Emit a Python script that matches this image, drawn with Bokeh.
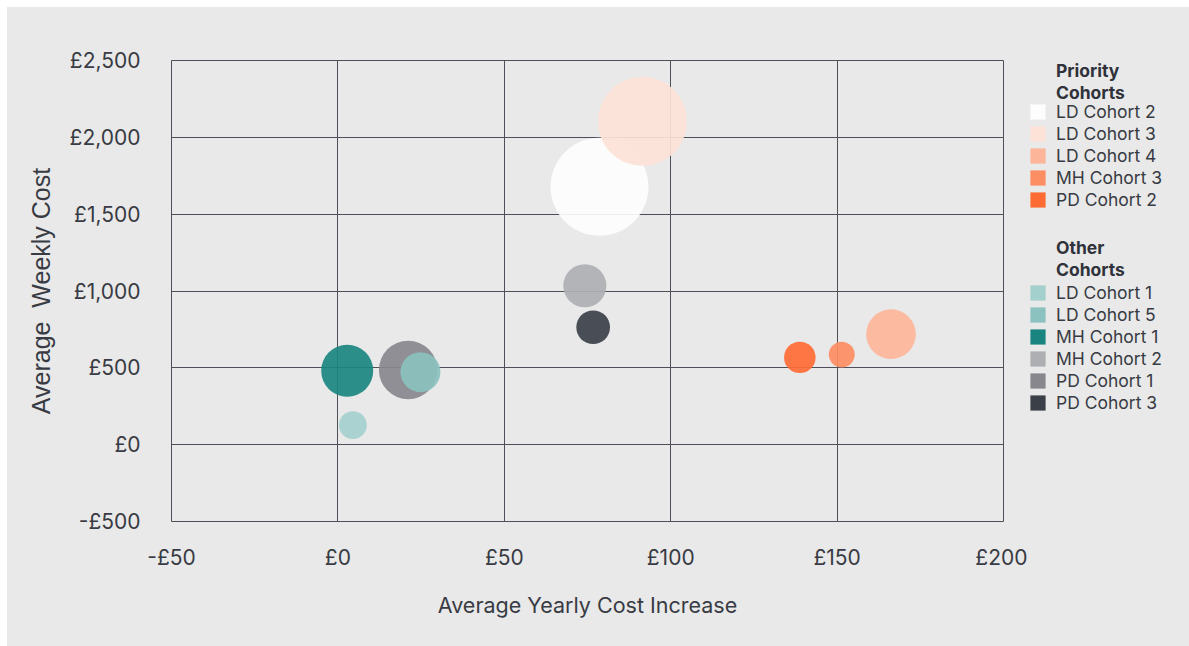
from bokeh.plotting import figure
from bokeh.layouts import row
from bokeh.models import ColumnDataSource, FixedTicker, Legend, LegendItem
from bokeh.embed import file_html
from bokeh.resources import INLINE

# Cohort data: yearly cost increase (£), weekly cost (£), and client count (bubble size)
cohorts = ["LD Cohort 2", "LD Cohort 3", "LD Cohort 4", "MH Cohort 3", "PD Cohort 2",
           "PD Cohort 1", "LD Cohort 1", "LD Cohort 5", "MH Cohort 1", "MH Cohort 2", "PD Cohort 3"]
yearly_increase = [78.6, 91.5, 166.2, 151.4, 138.8, 21.1, 4.5, 24.8, 2.8, 74.2, 76.7]
weekly_cost = [1678, 2104, 719, 586, 568, 486, 127, 472, 481, 1034, 764]
clients = [600, 495, 154, 42, 62, 213, 48, 100, 169, 116, 71]
colors = ["#fdfdfd", "#fde2d7", "#fdb599", "#fd8d62", "#ff6b35",
          "#87878d", "#a3cfcd", "#8bc1be", "#1a8580", "#aeafb3", "#3b3f48"]

priority_title = ["Priority", "Cohorts"]
priority_cohorts = ["LD Cohort 2", "LD Cohort 3", "LD Cohort 4", "MH Cohort 3", "PD Cohort 2"]
other_title = ["Other", "Cohorts"]
other_cohorts = ["LD Cohort 1", "LD Cohort 5", "MH Cohort 1", "MH Cohort 2", "PD Cohort 1", "PD Cohort 3"]

x_ticks = [-50, 0, 50, 100, 150, 200]
x_tick_labels = ["-£50", "£0", "£50", "£100", "£150", "£200"]
y_ticks = [-500, 0, 500, 1000, 1500, 2000, 2500]
y_tick_labels = ["-£500", "£0", "£500", "£1,000", "£1,500", "£2,000", "£2,500"]

BG = "#e9e9e9"
TEXT = "#383b43"
GRID = "#4d5058"
FONT = "Inter"
NAN = float("nan")

source = ColumnDataSource(dict(
    x=yearly_increase, y=weekly_cost, color=colors,
    size=[4 * c ** 0.5 for c in clients], name=cohorts,
))

# main bubble chart
p = figure(width=1020, height=639, output_backend="svg", toolbar_location=None,
           x_range=(-50, 200), y_range=(-500, 2500),
           background_fill_color=BG, border_fill_color=BG,
           min_border_left=164, min_border_right=24,
           min_border_top=53, min_border_bottom=125, margin=0)

p.scatter("x", "y", size="size", fill_color="color", fill_alpha=0.92,
          line_color=None, source=source)

p.xaxis.ticker = FixedTicker(ticks=x_ticks)
p.yaxis.ticker = FixedTicker(ticks=y_ticks)
p.xaxis.major_label_overrides = dict(zip(x_ticks, x_tick_labels))
p.yaxis.major_label_overrides = dict(zip(y_ticks, y_tick_labels))
for ax in (p.xaxis[0], p.yaxis[0]):
    ax.axis_line_color = None
    ax.major_tick_line_color = None
    ax.minor_tick_line_color = None
    ax.major_label_text_font = FONT
    ax.major_label_text_font_size = "21px"
    ax.major_label_text_color = TEXT
    ax.axis_label_text_color = TEXT
    ax.axis_label_text_font_style = "normal"
p.xaxis.major_label_standoff = 17
p.yaxis.major_label_standoff = 25
p.xaxis.axis_label = "Average Yearly Cost Increase"
p.xaxis.axis_label_text_font = FONT
p.xaxis.axis_label_text_font_size = "21.5px"
p.xaxis.axis_label_standoff = 19
p.yaxis.axis_label = "Average\u00a0\u00a0Weekly Cost"
p.yaxis.axis_label_text_font = "Liberation Sans"
p.yaxis.axis_label_text_font_size = "25px"
p.yaxis.axis_label_standoff = 12

p.xgrid.ticker = FixedTicker(ticks=x_ticks)
p.ygrid.ticker = FixedTicker(ticks=y_ticks)
p.grid.grid_line_color = GRID
p.grid.grid_line_width = 1
p.outline_line_color = GRID

# legend panel (its frame lines up with the chart frame)
lp = figure(width=162, height=639, output_backend="svg", toolbar_location=None,
            x_range=(0, 1), y_range=(0, 1), min_border=0, margin=0,
            x_axis_location=None, y_axis_location=None,
            background_fill_color=BG, border_fill_color=BG, outline_line_color=None)
lp.grid.visible = False


def add_legend(labels, bottom, swatches=True):
    items = []
    for nm in labels:
        if swatches:
            r = lp.quad(left=[NAN], right=[NAN], top=[NAN], bottom=[NAN],
                        fill_color=colors[cohorts.index(nm)], line_color=None)
        else:
            r = lp.quad(left=[NAN], right=[NAN], top=[NAN], bottom=[NAN],
                        fill_alpha=0, line_color=None)
        items.append(LegendItem(label=nm, renderers=[r]))
    lg = Legend(items=items, location=(1, bottom), orientation="vertical",
                glyph_width=19, glyph_height=19, label_height=22, spacing=0,
                padding=0, margin=0, label_standoff=9,
                border_line_alpha=0, background_fill_alpha=0,
                label_text_font=FONT, label_text_font_size="17.5px",
                label_text_color=TEXT if swatches else "#2f323a",
                label_text_font_style="normal" if swatches else "bold",
                label_text_baseline="middle")
    lp.add_layout(lg)


add_legend(priority_title, 418, swatches=False)
add_legend(priority_cohorts, 311)
add_legend(other_title, 241, swatches=False)
add_legend(other_cohorts, 108)

layout = row(p, lp, spacing=0, margin=(7, 0, 0, 7),
             styles={"background-color": BG})
open("out.html", "w").write(file_html(layout, INLINE))
